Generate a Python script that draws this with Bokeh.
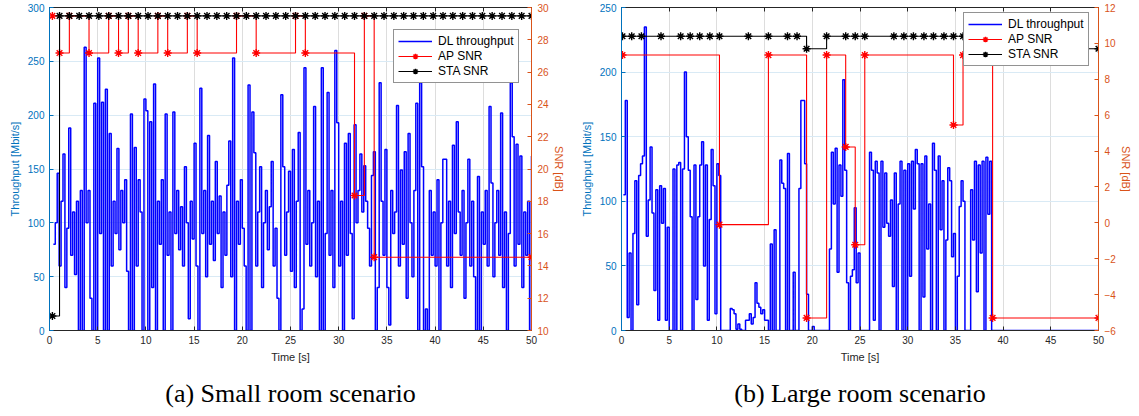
from bokeh.plotting import figure
from bokeh.models import (Range1d, LinearAxis, FixedTicker, Title, Legend, LegendItem,
                          CustomJSTickFormatter)
from bokeh.layouts import row
from bokeh.embed import file_html
from bokeh.resources import INLINE

# ---------------- data ----------------
time_ticks = [0, 5, 10, 15, 20, 25, 30, 35, 40, 45, 50]

# (a) small room
small_tp_t0 = 0.4
small_tp_dt = 0.2
small_tp = [
    80, 100, 146, 60, 120, 164, 40, 95, 188, 70,
    110, 52, 120, 0, 130, 0, 263, 100, 130, 30,
    0, 211, 0, 253, 90, 212, 0, 224, 0, 183,
    60, 120, 90, 169, 75, 130, 100, 140, 55, 0,
    201, 0, 170, 60, 140, 110, 0, 215, 204, 0,
    194, 40, 229, 0, 120, 80, 140, 0, 201, 70,
    110, 0, 203, 90, 130, 75, 115, 60, 152, 100,
    11, 120, 85, 174, 60, 0, 225, 90, 130, 50,
    181, 80, 120, 65, 157, 90, 125, 40, 110, 70,
    135, 176, 50, 253, 0, 120, 80, 140, 95, 60,
    0, 228, 0, 203, 165, 60, 110, 152, 40, 100,
    130, 75, 115, 157, 60, 95, 30, 0, 219, 152,
    70, 110, 148, 55, 168, 40, 120, 184, 0, 20,
    244, 80, 130, 60, 100, 208, 50, 120, 0, 244,
    0, 90, 221, 70, 130, 40, 260, 193, 60, 120,
    0, 174, 70, 183, 90, 11, 191, 100, 130, 164,
    110, 153, 120, 95, 60, 144, 166, 0, 40, 230,
    120, 70, 168, 40, 5, 130, 90, 110, 209, 60,
    149, 80, 166, 30, 183, 100, 50, 130, 211, 0,
    230, 152, 0, 20, 0, 130, 70, 110, 60, 140,
    0, 100, 159, 159, 60, 120, 40, 172, 90, 194,
    110, 70, 130, 30, 100, 159, 60, 120, 50, 0,
    143, 0, 110, 80, 130, 60, 208, 137, 50, 100,
    130, 70, 202, 40, 110, 0, 90, 230, 180, 60,
    173, 80, 162, 40, 110, 70, 120, 0, 162,
]
small_ap_t = [0.3, 1.04, 2.06, 4.1, 6.14, 7.16, 8.18, 9.2, 11.24, 12.26, 14.3,
              15.32, 19.4, 21.44, 25.52, 26.54, 31.64, 32.66, 33.68, 50.0]
small_ap_snr = [29.48, 27.18, 29.48, 27.18, 29.48, 27.18, 29.48, 27.18, 29.48, 27.18, 29.48,
                27.18, 29.48, 27.18, 29.48, 27.18, 18.36, 29.48, 14.54, 14.54]
small_sta_t = [0.3, 1.04, 2.06, 3.08, 4.1, 5.12, 6.14, 7.16, 8.18, 9.2, 10.22, 11.24,
               12.26, 13.28, 14.3, 15.32, 16.34, 17.36, 18.38, 19.4, 20.42, 21.44,
               22.46, 23.48, 24.5, 25.52, 26.54, 27.56, 28.58, 29.6, 30.62, 31.64,
               32.66, 33.68, 34.7, 35.72, 36.74, 37.76, 38.78, 39.8, 40.82, 41.84,
               42.86, 43.88, 44.9, 45.92, 46.94, 47.96, 48.98, 50.0]
small_sta_snr = [10.9] + [29.48] * 49

# (b) large room
large_tp_t0 = 0.2
large_tp_dt = 0.2
large_tp = [
    105, 178, 10, 60, 0, 75, 116, 20, 120, 129,
    135, 235, 73, 101, 142, 91, 31, 109, 8, 112,
    83, 110, 8, 80, 0, 0, 125, 0, 128, 130,
    0, 125, 200, 150, 124, 88, 0, 128, 24, 88,
    128, 146, 50, 128, 8, 86, 140, 112, 13, 129,
    120, 0, 0, 0, 0, 0, 17, 16, 13, 1,
    5, 1, 0, 0, 8, 8, 13, 5, 10, 37,
    21, 18, 13, 16, 8, 8, 0, 67, 0, 78,
    0, 0, 132, 114, 110, 0, 137, 0, 0, 45,
    0, 0, 110, 178, 178, 129, 28, 0, 0, 3,
    0, 0, 0, 0, 0, 0, 0, 0, 63, 138,
    98, 141, 45, 128, 104, 194, 124, 37, 0, 42,
    47, 95, 37, 60, 0, 0, 0, 0, 0, 138,
    124, 8, 131, 122, 0, 131, 80, 122, 83, 73,
    101, 34, 122, 0, 98, 131, 0, 124, 0, 129,
    42, 131, 94, 140, 129, 0, 129, 26, 135, 63,
    98, 0, 145, 124, 0, 135, 78, 116, 0, 70,
    126, 116, 57, 75, 0, 42, 96, 116, 100, 0,
    0, 0, 109, 70, 131, 30, 128, 60, 131, 0,
    134, 90, 131, 0, 0, 0, 0, 0, 0, 0,
]
large_tp_end_t = 50.0
large_tp_end = 0
large_ap_t = [0.1, 10.27, 15.4, 19.4, 21.5, 23.5, 24.5, 25.5, 34.8, 35.8, 38.9, 50.0]
large_ap_snr = [9.35, -0.1, 9.35, -5.3, 9.35, 4.23, -1.22, 9.35, 5.45, 9.35, -5.3, -5.3]
large_sta_t = [0.1, 1.07, 2.09, 4.14, 6.2, 7.2, 8.2, 9.26, 10.27, 13.3, 15.4, 17.4,
               18.4, 19.4, 21.5, 23.5, 24.5, 25.5, 28.55, 29.6, 30.6, 31.7, 32.7,
               33.8, 34.8, 35.8, 36.8, 37.8, 38.9, 50.0]
large_sta_snr = [10.4, 10.4, 10.4, 10.4, 10.4, 10.4, 10.4, 10.4, 10.4, 10.4, 10.4, 10.4,
                 10.4, 9.7, 10.4, 10.4, 10.4, 10.4, 10.4, 10.4, 10.4, 10.4, 10.4,
                 10.4, 10.4, 10.4, 10.4, 10.4, 9.7, 9.7]

# ---------------- style ----------------
BLUE_AX = "#0072BD"
ORANGE_AX = "#D95319"
DARK = "#262626"
FONT = "Liberation Sans"


def make_panel(tp_t, tp, ap_t, ap, sta_t, sta, y_max, y_ticks, snr_range, snr_ticks,
               caption, frame_w, border_l, border_r, legend_loc):
    p = figure(frame_width=frame_w, frame_height=323, output_backend="svg",
               toolbar_location=None, x_range=Range1d(0, 50), y_range=Range1d(0, y_max),
               min_border_left=border_l, min_border_right=border_r,
               min_border_top=7, min_border_bottom=82)
    p.extra_y_ranges = {"snr": Range1d(*snr_range)}
    p.outline_line_color = DARK
    p.outline_line_width = 1
    p.background_fill_color = "white"

    xa = p.xaxis[0]
    xa.ticker = FixedTicker(ticks=time_ticks)
    xa.axis_label = "Time [s]"
    xa.axis_line_color = DARK
    xa.major_tick_line_color = DARK
    xa.major_label_text_color = DARK
    xa.axis_label_text_color = DARK

    ya = p.yaxis[0]
    ya.ticker = FixedTicker(ticks=y_ticks)
    ya.axis_label = "Throughput [Mbit/s]"
    ya.axis_line_color = BLUE_AX
    ya.major_tick_line_color = BLUE_AX
    ya.major_label_text_color = BLUE_AX
    ya.axis_label_text_color = BLUE_AX

    ra = LinearAxis(y_range_name="snr", axis_label="SNR [dB]",
                    ticker=FixedTicker(ticks=snr_ticks))
    ra.axis_line_color = ORANGE_AX
    ra.major_tick_line_color = ORANGE_AX
    ra.major_label_text_color = ORANGE_AX
    ra.axis_label_text_color = ORANGE_AX
    p.add_layout(ra, "right")

    ta = LinearAxis(ticker=FixedTicker(ticks=time_ticks),
                    formatter=CustomJSTickFormatter(code="return ''"),
                    axis_line_color=DARK, major_tick_line_color=DARK,
                    major_label_standoff=0)
    p.add_layout(ta, "above")

    for ax in [xa, ya, ra, ta]:
        ax.major_tick_in = 4
        ax.major_tick_out = 0
        ax.minor_tick_line_color = None
        ax.major_label_text_font = FONT
        ax.major_label_text_font_size = "10px"
        ax.axis_label_text_font = FONT
        ax.axis_label_text_font_size = "11px"
        ax.axis_label_text_font_style = "normal"
        ax.axis_line_width = 1
    ta.major_label_text_font_size = "1px"
    xa.major_label_standoff = 5
    xa.axis_label_standoff = 4
    ya.major_label_standoff = 5
    ya.axis_label_standoff = 4
    ra.major_label_standoff = 6
    ra.axis_label_standoff = 1

    p.xgrid.grid_line_color = "#dddddd"
    p.xgrid.ticker = FixedTicker(ticks=time_ticks)
    p.ygrid.grid_line_color = "#d9eaf5"
    p.ygrid.ticker = FixedTicker(ticks=y_ticks)

    r_tp = p.step(tp_t, tp, mode="after", line_color="#0000FF", line_width=1.5)
    r_ap = p.step(ap_t, ap, mode="after", line_color="#FF0000", line_width=1.1,
                  y_range_name="snr")
    r_ap_m = p.scatter(ap_t, ap, marker="asterisk", size=8, line_color="#FF0000",
                       line_width=1.4, y_range_name="snr")
    r_sta = p.step(sta_t, sta, mode="after", line_color="black", line_width=1.1,
                   y_range_name="snr")
    r_sta_m = p.scatter(sta_t, sta, marker="asterisk", size=8, line_color="black",
                        line_width=1.4, y_range_name="snr")

    legend = Legend(items=[
        LegendItem(label="DL throughput", renderers=[r_tp]),
        LegendItem(label="AP SNR", renderers=[r_ap, r_ap_m]),
        LegendItem(label="STA SNR", renderers=[r_sta, r_sta_m]),
    ], location=legend_loc)
    legend.label_text_font = FONT
    legend.label_text_font_size = "12px"
    legend.label_text_color = "black"
    legend.glyph_width = 34
    legend.glyph_height = 14
    legend.label_height = 14
    legend.spacing = 1
    legend.padding = 4
    legend.margin = 0
    legend.label_standoff = 6
    legend.border_line_color = DARK
    legend.border_line_width = 1
    legend.background_fill_color = "white"
    legend.background_fill_alpha = 1
    p.add_layout(legend, "center")

    cap = Title(text=caption, align="center", text_font="Liberation Serif",
                text_font_size="26px", text_font_style="normal", text_color="black",
                standoff=22)
    p.add_layout(cap, "below")
    return p


def times(t0, dt, n):
    return [round(t0 + dt * i, 3) for i in range(n)]


s_t = times(small_tp_t0, small_tp_dt, len(small_tp))
l_t = times(large_tp_t0, large_tp_dt, len(large_tp)) + [large_tp_end_t]
l_v = large_tp + [large_tp_end]

p1 = make_panel(s_t, small_tp, small_ap_t, small_ap_snr, small_sta_t, small_sta_snr,
                300, [0, 50, 100, 150, 200, 250, 300], (10, 30), list(range(10, 31, 2)),
                "(a) Small room scenario", 482, 49, 44, (344, 247))
p2 = make_panel(l_t, l_v, large_ap_t, large_ap_snr, large_sta_t, large_sta_snr,
                250, [0, 50, 100, 150, 200, 250], (-6, 12), list(range(-6, 13, 2)),
                "(b) Large room scenario", 477, 46, 36, (342, 264))

layout = row(p1, p2)
open("out.html", "w").write(file_html(layout, INLINE))
